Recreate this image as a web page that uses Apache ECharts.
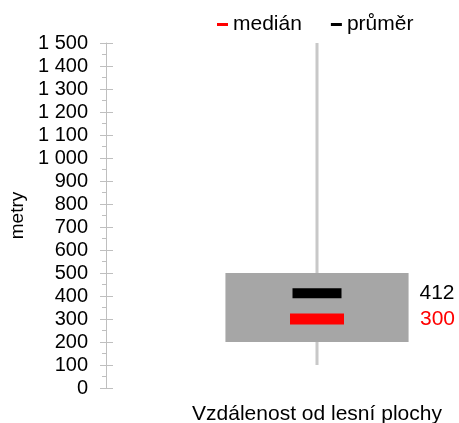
<!DOCTYPE html>
<html>
<head>
<meta charset="utf-8">
<script src="https://cdn.jsdelivr.net/npm/echarts@6/dist/echarts.min.js"></script>
<style>
  html, body { margin: 0; padding: 0; background: #fff; }
  #chart { width: 459px; height: 423px; }
</style>
</head>
<body>
<div id="chart"></div>
<script>
const categories = ['Vzdálenost od lesní plochy']
const minValues = [100]
const q1Values = [200]
const q3Values = [500]
const maxValues = [1500]
const medianValues = [300]
const meanValues = [412]

const font = "'Liberation Sans', Arial, sans-serif"
const fmt = (v) => String(v).replace(/\B(?=(\d{3})+(?!\d))/g, ' ')

const boxData = categories.map((c, i) => [i, minValues[i], q1Values[i], q3Values[i], maxValues[i]])

const chart = echarts.init(document.getElementById('chart'))
chart.setOption({
  animation: false,
  textStyle: { fontFamily: font },
  grid: { left: 106, top: 43, bottom: 35, width: 422, outerBoundsMode: 'none', containLabel: false },
  legend: {
    left: 212,
    top: 9,
    itemWidth: 11,
    itemHeight: 3,
    itemGap: 29,
    icon: 'rect',
    textStyle: { fontSize: 21, color: '#000' },
    data: ['medián', 'průměr'],
  },
  xAxis: {
    type: 'category',
    data: categories,
    axisLine: { show: false },
    axisTick: { show: false },
    axisLabel: { fontSize: 21, color: '#000', margin: 16 },
  },
  yAxis: [
    {
      type: 'value',
      min: 0,
      max: 1500,
      interval: 100,
      name: 'metry',
      nameLocation: 'middle',
      nameRotate: 90,
      nameGap: 79,
      nameTextStyle: { fontSize: 19, color: '#000' },
      axisLine: { show: true, lineStyle: { color: '#bfbfbf' } },
      axisTick: { show: true, length: 6, lineStyle: { color: '#bfbfbf' } },
      minorTick: { show: true, splitNumber: 2, length: 4, lineStyle: { color: '#bfbfbf' } },
      splitLine: { show: false },
      axisLabel: { fontSize: 20, color: '#000', margin: 18, formatter: fmt },
    },
    {
      type: 'value',
      position: 'left',
      min: 0,
      max: 1500,
      interval: 100,
      axisLine: { show: false },
      axisTick: { show: true, inside: true, length: 7, lineStyle: { color: '#bfbfbf' } },
      axisLabel: { show: false },
      splitLine: { show: false },
    },
  ],
  series: [
    {
      type: 'custom',
      data: boxData,
      z: 2,
      renderItem: (params, api) => {
        const x = api.value(0)
        const lo = api.coord([x, api.value(1)])
        const q1 = api.coord([x, api.value(2)])
        const q3 = api.coord([x, api.value(3)])
        const hi = api.coord([x, api.value(4)])
        const w = api.size([1, 0])[0] * 0.434
        return {
          type: 'group',
          children: [
            {
              type: 'line',
              shape: { x1: lo[0], y1: lo[1], x2: hi[0], y2: hi[1] },
              style: { stroke: '#c8c8c8', lineWidth: 3 },
            },
            {
              type: 'rect',
              shape: { x: q3[0] - w / 2, y: q3[1], width: w, height: q1[1] - q3[1] },
              style: { fill: '#a6a6a6' },
            },
          ],
        }
      },
    },
    {
      name: 'medián',
      type: 'scatter',
      z: 3,
      symbol: 'rect',
      symbolSize: [54, 11],
      itemStyle: { color: '#ff0000', opacity: 1 },
      data: categories.map((c, i) => [i, medianValues[i]]),
      label: {
        show: true,
        position: 'right',
        distance: 76,
        fontSize: 21,
        color: '#ff0000',
        formatter: (p) => fmt(p.value[1]),
      },
    },
    {
      name: 'průměr',
      type: 'scatter',
      z: 3,
      symbol: 'rect',
      symbolSize: [49, 10],
      itemStyle: { color: '#000', opacity: 1 },
      data: categories.map((c, i) => [i, meanValues[i]]),
      label: {
        show: true,
        position: 'right',
        distance: 78,
        fontSize: 21,
        color: '#000',
        formatter: (p) => fmt(p.value[1]),
      },
    },
  ],
})
</script>
</body>
</html>
